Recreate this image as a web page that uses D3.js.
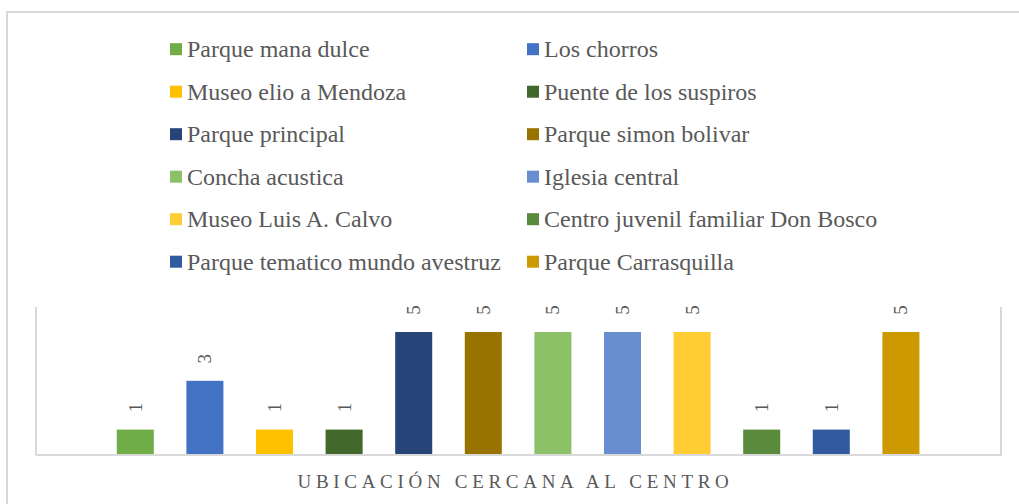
<!DOCTYPE html>
<html>
<head>
<meta charset="utf-8">
<script src="https://cdn.jsdelivr.net/npm/d3@7"></script>
<style>
  body { margin: 0; background: #fff; }
  svg { display: block; font-family: "Liberation Serif", "Times New Roman", serif; }
</style>
</head>
<body>
<svg id="chart" width="1019" height="504"></svg>
<script>
// data
const category = "UBICACIÓN CERCANA AL CENTRO";
const places = [
  "Parque mana dulce", "Los chorros", "Museo elio a Mendoza", "Puente de los suspiros",
  "Parque principal", "Parque simon bolivar", "Concha acustica", "Iglesia central",
  "Museo Luis A. Calvo", "Centro juvenil familiar Don Bosco",
  "Parque tematico mundo avestruz", "Parque Carrasquilla"
];
const counts = [1, 3, 1, 1, 5, 5, 5, 5, 5, 1, 1, 5];
const colors = [
  "#70AD47", "#4472C4", "#FFC000", "#43682B", "#264478", "#997300",
  "#8CC168", "#698ED0", "#FFCD33", "#5A8A3B", "#325AA1", "#CC9900"
];
const yMax = 6;

const W = 1019, H = 504;
const PLOT = { left: 36, right: 1001, top: 307.6, bottom: 454 };
const TEXT = "#595959";
const GRID = "#d9d9d9";

const svg = d3.select("#chart");

// chart area border (runs off the right and bottom of the picture)
svg.append("rect")
  .attr("x", 7).attr("y", 12)
  .attr("width", W + 20).attr("height", H + 20)
  .attr("fill", "none")
  .attr("stroke", GRID).attr("stroke-width", 2);

const x0 = d3.scaleBand().domain([category]).range([PLOT.left, PLOT.right]);
const x1 = d3.scaleBand()
  .domain(places)
  .range([x0(category) + 64.5, x0(category) + x0.bandwidth() - 65.3])
  .paddingInner(0.468)
  .paddingOuter(0.234);
const y = d3.scaleLinear().domain([0, yMax]).range([PLOT.bottom, PLOT.top]);

// plot area side lines
svg.append("line")
  .attr("x1", PLOT.left).attr("x2", PLOT.left)
  .attr("y1", PLOT.top - 0.6).attr("y2", PLOT.bottom + 1.5)
  .attr("stroke", GRID).attr("stroke-width", 2);
svg.append("line")
  .attr("x1", PLOT.right).attr("x2", PLOT.right)
  .attr("y1", PLOT.top - 0.6).attr("y2", PLOT.bottom + 1.5)
  .attr("stroke", GRID).attr("stroke-width", 2);

// bars
svg.append("g").selectAll("rect")
  .data(places)
  .join("rect")
  .attr("x", d => x1(d))
  .attr("y", (d, i) => y(counts[i]))
  .attr("width", x1.bandwidth())
  .attr("height", (d, i) => PLOT.bottom - y(counts[i]))
  .attr("fill", (d, i) => colors[i]);

// data labels, rotated
svg.append("g").selectAll("text")
  .data(places)
  .join("text")
  .attr("transform", (d, i) => `translate(${x1(d) + x1.bandwidth() / 2},${y(counts[i]) - 22}) rotate(-90)`)
  .attr("text-anchor", "middle")
  .attr("dominant-baseline", "central")
  .attr("fill", TEXT)
  .style("font-size", "19px")
  .text((d, i) => counts[i]);

// category axis
const xAxis = svg.append("g")
  .attr("transform", `translate(0,${PLOT.bottom + 0.5})`)
  .call(d3.axisBottom(x0).tickSize(0).tickSizeOuter(0).tickPadding(20));
xAxis.select(".domain").attr("stroke", GRID).attr("stroke-width", 2);
xAxis.selectAll("text")
  .attr("fill", TEXT)
  .attr("dx", -3)
  .style("font-family", "'Liberation Serif', 'Times New Roman', serif")
  .style("font-size", "19px")
  .style("letter-spacing", "4.7px");

// legend, two columns
const legendCols = [170, 527];
const legendTop = 49.2, legendStep = 42.5;
const legend = svg.append("g").selectAll("g")
  .data(places)
  .join("g")
  .attr("transform", (d, i) => `translate(${legendCols[i % 2]},${legendTop + Math.floor(i / 2) * legendStep})`);
legend.append("rect")
  .attr("x", 0).attr("y", -6)
  .attr("width", 12).attr("height", 12)
  .attr("fill", (d, i) => colors[i]);
legend.append("text")
  .attr("x", 17).attr("y", 7.8)
  .attr("fill", TEXT)
  .style("font-size", "24px")
  .text(d => d);
</script>
</body>
</html>
